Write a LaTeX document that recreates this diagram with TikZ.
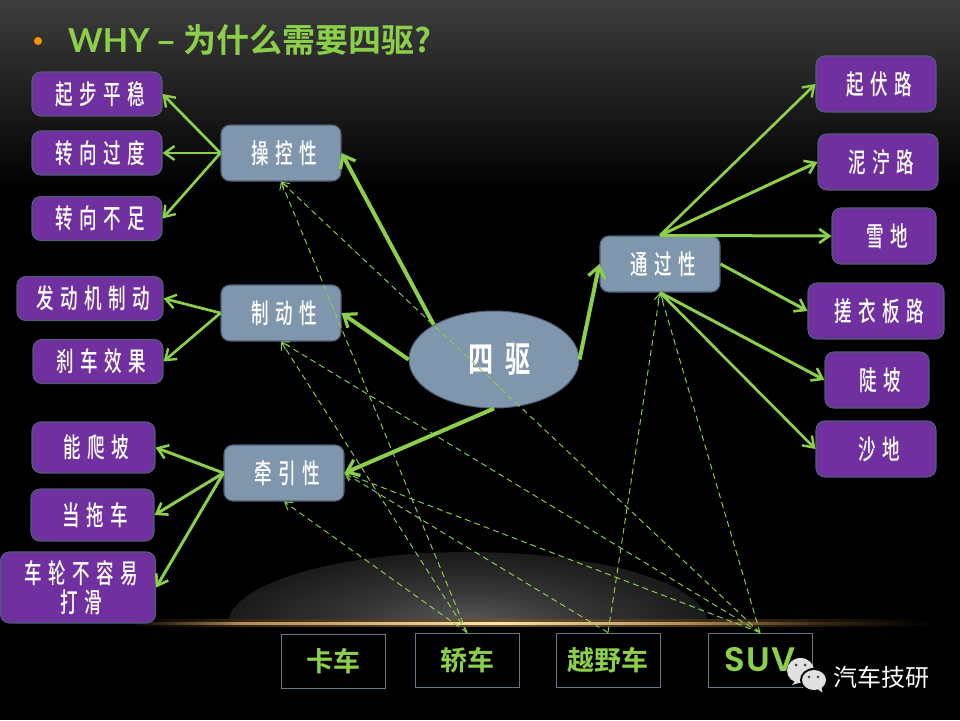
\documentclass[tikz,border=0pt]{standalone}
\usepackage{fontspec}
\usetikzlibrary{arrows.meta,shapes.geometric}
\setmainfont{Noto Sans CJK SC}
\newfontfamily\narrowcjk[FakeStretch=0.65,LetterSpace=24]{Noto Sans CJK SC Medium}
\newfontfamily\maincjk[FakeStretch=0.7,LetterSpace=33]{Noto Sans CJK SC Bold}
\newfontfamily\boldcjk{Noto Sans CJK SC Bold}
\newfontfamily\latbold{Lato Bold}
\newfontfamily\suvfont[LetterSpace=5]{Poppins SemiBold}
\newcommand{\lead}{\hspace*{6.5pt}}
\definecolor{lime}{HTML}{8CCF4A}
\definecolor{violet}{HTML}{7030A0}
\definecolor{slate}{HTML}{7F96AD}
\definecolor{edgeblue}{HTML}{4F5E78}
\definecolor{glowA}{HTML}{5A5A5A}
\definecolor{glowB}{HTML}{363636}
\definecolor{glowC}{HTML}{161616}
\definecolor{bandA}{HTML}{6E5230}
\definecolor{bandB}{HTML}{3A2A14}
\definecolor{coreA}{HTML}{FBE6B0}
\definecolor{coreB}{HTML}{B08A55}
\pgfdeclareradialshading{glow}{\pgfpointorigin}{color(0bp)=(glowA); color(12bp)=(glowB); color(27bp)=(glowC); color(50bp)=(black)}
\pgfdeclarehorizontalshading{bandshade}{100bp}{color(0bp)=(black); color(25bp)=(black); color(33bp)=(bandB); color(48bp)=(bandA); color(62bp)=(bandB); color(75bp)=(black); color(100bp)=(black)}
\pgfdeclarehorizontalshading{coreshade}{100bp}{color(0bp)=(black); color(25bp)=(black); color(32bp)=(coreB); color(48bp)=(coreA); color(60bp)=(coreB); color(68bp)=(bandB); color(75bp)=(black); color(100bp)=(black)}
\tikzset{
  x=1pt,y=-1pt,
  txt/.style={text=white,font=\narrowcjk\fontsize{27}{29}\selectfont,align=center,inner sep=0pt},
  leaf/.style={txt,draw=edgeblue,line width=1.1pt,fill=violet,rounded corners=9pt,minimum width=#1},
  leaf/.default=120pt,
  hub/.style={txt,draw=edgeblue,line width=1.1pt,fill=slate,rounded corners=9pt,minimum width=120pt,minimum height=56pt},
  cartype/.style={draw=edgeblue!85!white,line width=.9pt,minimum width=104pt,minimum height=54pt,inner sep=0pt,text=lime,font=\boldcjk\fontsize{27}{30}\selectfont},
  heavy/.style={draw=lime,line width=4pt,-{Straight Barb[length=11pt,width=17pt,line width=3.2pt]}},
  mid/.style={draw=lime,line width=3pt,-{Straight Barb[length=10pt,width=14pt,line width=2.6pt]}},
  thin/.style={draw=lime,line width=2.7pt,-{Straight Barb[length=10pt,width=14pt,line width=2.4pt]}},
  dash link/.style={draw=lime,line width=.95pt,dash pattern=on 6pt off 4pt,-{Straight Barb[length=7pt,width=9pt,line width=.95pt]}},
}
\begin{document}
\begin{tikzpicture}
\useasboundingbox (0,0) rectangle (960,720);
\fill[black] (0,0) rectangle (960,720);
\shade[top color=black!76,bottom color=black] (0,0) rectangle (960,190);
% glow above the horizon
\begin{scope}
\clip (150,520) rectangle (800,623);
\shade[shading=glow] (468,624) ellipse [x radius=240,y radius=72];
\end{scope}
\shade[shading=bandshade] (130,619.5) rectangle (930,626.5);
\shade[shading=coreshade] (130,622) rectangle (930,624);
% title
\fill[orange!85!yellow] (38,41) circle (4);
\node[anchor=west,text=lime,inner sep=0pt] (title) at (68,40) {\latbold\fontsize{33}{36}\selectfont WHY \boldcjk – 为什么需要四驱?};
% leaves left
\node[leaf=130pt,minimum height=44pt] (a1) at (97,94) {\lead 起步平稳};
\node[leaf=130pt,minimum height=44pt] (a2) at (97,153) {\lead 转向过度};
\node[leaf=130pt,minimum height=44pt] (a3) at (97,218.5) {\lead 转向不足};
\node[leaf=146pt,minimum height=44pt] (b1) at (90,298.5) {\lead 发动机制动};
\node[leaf=130pt,minimum height=44pt] (b2) at (98,361.5) {\lead 刹车效果};
\node[leaf=123pt,minimum height=51pt] (c1) at (93.5,447.5) {\lead 能爬坡};
\node[leaf=123pt,minimum height=52pt] (c2) at (92.5,515) {\lead 当拖车};
\node[leaf=155pt,minimum height=71pt] (c3) at (78,587.5) {\lead 车轮不容易\\\lead 打滑};
% hubs
\node[hub] (cao) at (281,153) {\lead 操控性};
\node[hub] (zhi) at (281,313) {\lead 制动性};
\node[hub] (qian) at (284,473) {\lead 牵引性};
\node[hub] (tong) at (660,264) {\lead 通过性};
\node[ellipse,draw=edgeblue,line width=1pt,fill=slate,minimum width=170pt,minimum height=97pt,inner sep=0pt,text=white,font=\maincjk\fontsize{36}{40}\selectfont] (main) at (494,359.5) {\hspace*{12pt}四驱};
% leaves right
\node[leaf,minimum height=56pt] (d1) at (876,84) {\lead 起伏路};
\node[leaf,minimum height=56pt] (d2) at (878,162) {\lead 泥泞路};
\node[leaf=104pt,minimum height=56pt] (d3) at (884,236) {\lead 雪地};
\node[leaf=136pt,minimum height=56pt] (d4) at (876,311) {\lead 搓衣板路};
\node[leaf=104pt,minimum height=56pt] (d5) at (877,380) {\lead 陡坡};
\node[leaf,minimum height=56pt] (d6) at (876,449) {\lead 沙地};
% car types
\node[cartype] (truck) at (333,661) {卡车};
\node[cartype] (sedan) at (467,660) {轿车};
\node[cartype] (offroad) at (608,660) {越野车};
\node[cartype,font=\suvfont\fontsize{34}{40}\selectfont] (suv) at (760,660) {SUV};
% solid connectors
\draw[thin] (cao.west) -- (a1.east);
\draw[thin] (cao.west) -- (a2.east);
\draw[thin] (cao.west) -- (a3.east);
\draw[thin] (zhi.west) -- (b1.east);
\draw[thin] (zhi.west) -- (b2.east);
\draw[mid] (qian.west) -- (c1.east);
\draw[mid] (qian.west) -- (c2.east);
\draw[mid] (qian.west) -- (c3.east);
\draw[heavy] (main.150) -- (cao.east);
\draw[heavy] (main.west) -- (zhi.east);
\draw[heavy] (main.south) -- (qian.east);
\draw[heavy] (main.east) -- (tong.west);
\draw[thin] (tong.north) -- (d1.west);
\draw[mid] (tong.north) -- (d2.west);
\draw[mid] (tong.north) -- (d3.west);
\draw[mid] (tong.east) -- (d4.west);
\draw[mid] (tong.south) -- (d5.west);
\draw[thin] (tong.south) -- (d6.west);
% dashed connectors
\draw[dash link] (sedan.north) -- (cao.south);
\draw[dash link] (sedan.north) -- (zhi.south);
\draw[dash link] (sedan.north) -- (qian.south);
\draw[dash link] (offroad.north) -- (qian.east);
\draw[dash link] (offroad.north) -- (tong.south);
\draw[dash link] (suv.north) -- (cao.south);
\draw[dash link] (suv.north) -- (zhi.south);
\draw[dash link] (suv.north) -- (qian.east);
\draw[dash link] (suv.north) -- (tong.south);
% WeChat mark
\fill[white!88!black] (797,679) -- (792,685) -- (802,682) -- cycle;
\fill[white!88!black] (800.5,670.5) ellipse [x radius=13.5,y radius=12.5];
\fill[black] (814,680) ellipse [x radius=14,y radius=12];
\fill[white!88!black] (814,680) ellipse [x radius=12,y radius=10];
\fill[white!88!black] (816,688) -- (822.5,692.5) -- (821,685) -- cycle;
\fill[black!75] (796,665) circle (1.5) (805,665) circle (1.5) (809,677) circle (1.3) (818,677) circle (1.3);
\node[anchor=west,text=white,inner sep=0pt,font=\fontsize{24}{28}\selectfont] (brand) at (833,677) {汽车技研};
\end{tikzpicture}
\end{document}
